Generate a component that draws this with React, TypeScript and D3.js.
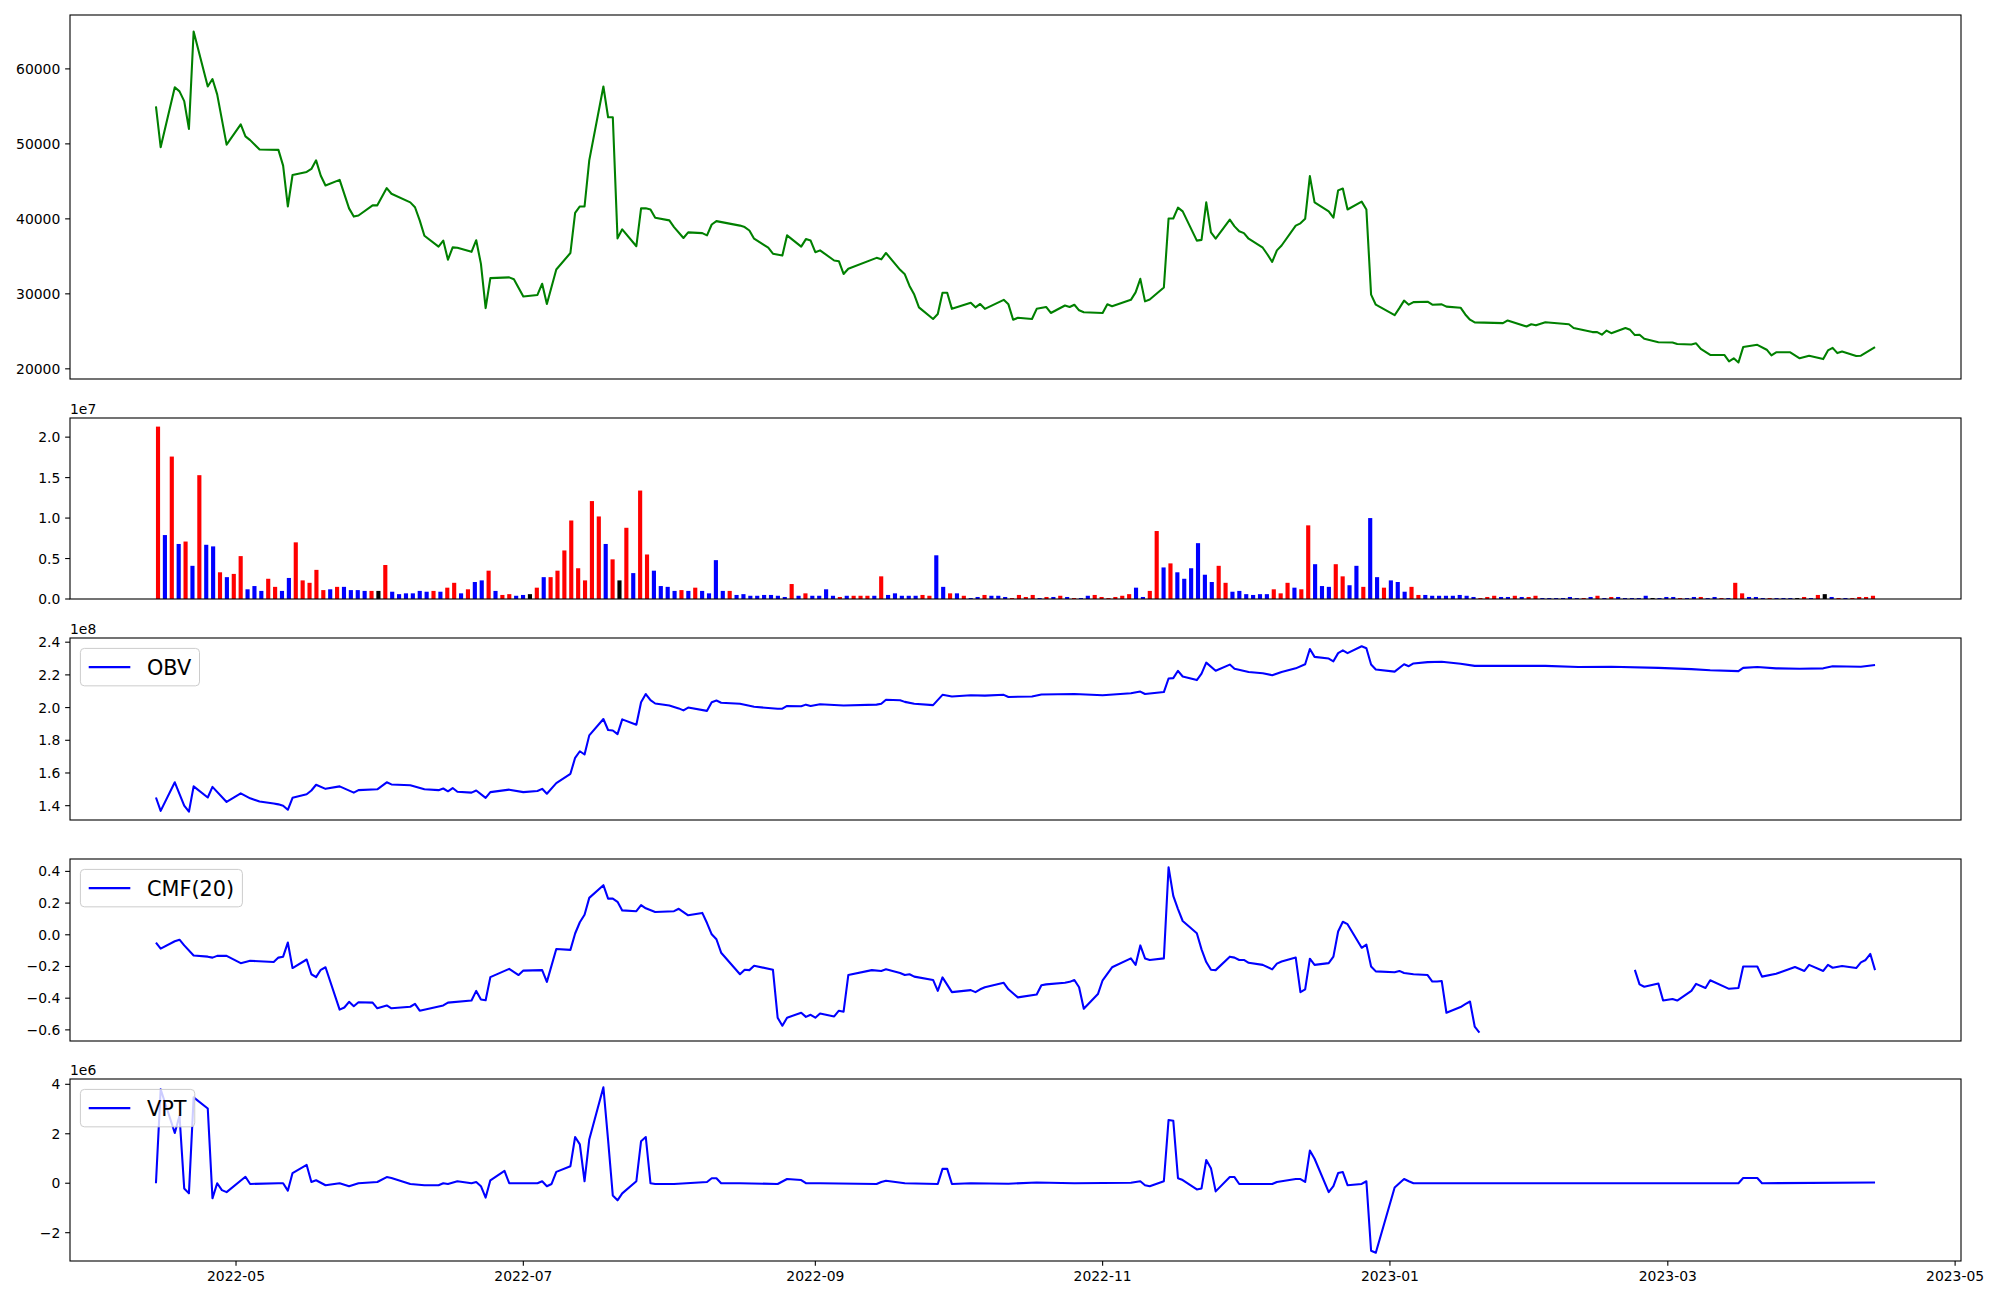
import React from "react";
import * as d3 from "d3";

// ---------------- data ----------------
const priceData: [string, number][] = [
["2022-04-14",55000],["2022-04-15",49550],["2022-04-18",57550],["2022-04-19",57000],["2022-04-20",55700],["2022-04-21",52000],["2022-04-22",64980],["2022-04-25",57650],["2022-04-26",58650],["2022-04-27",56600],["2022-04-29",49900],
["2022-05-02",52600],["2022-05-03",51000],["2022-05-04",50500],["2022-05-06",49250],["2022-05-10",49200],["2022-05-11",47100],["2022-05-12",41650],["2022-05-13",45850],["2022-05-16",46250],["2022-05-17",46650],["2022-05-18",47800],["2022-05-19",45750],["2022-05-20",44450],["2022-05-23",45200],["2022-05-25",41400],["2022-05-26",40300],["2022-05-27",40450],["2022-05-30",41800],["2022-05-31",41800],
["2022-06-02",44100],["2022-06-03",43350],["2022-06-07",42200],["2022-06-08",41550],["2022-06-09",39800],["2022-06-10",37750],["2022-06-13",36300],["2022-06-14",37100],["2022-06-15",34550],["2022-06-16",36200],["2022-06-17",36150],["2022-06-20",35600],["2022-06-21",37150],["2022-06-22",34000],["2022-06-23",28100],["2022-06-24",32100],["2022-06-28",32200],["2022-06-29",31950],
["2022-07-01",29650],["2022-07-04",29850],["2022-07-05",31350],["2022-07-06",28650],["2022-07-08",33250],["2022-07-11",35450],["2022-07-12",40800],["2022-07-13",41650],["2022-07-14",41650],["2022-07-15",47800],["2022-07-18",57650],["2022-07-19",53550],["2022-07-20",53550],["2022-07-21",37400],["2022-07-22",38600],["2022-07-25",36350],["2022-07-26",41400],["2022-07-27",41400],["2022-07-28",41250],["2022-07-29",40150],
["2022-08-01",39800],["2022-08-02",38900],["2022-08-04",37450],["2022-08-05",38200],["2022-08-08",38100],["2022-08-09",37800],["2022-08-10",39250],["2022-08-11",39700],["2022-08-16",39100],["2022-08-17",38900],["2022-08-18",38450],["2022-08-19",37350],["2022-08-22",36150],["2022-08-23",35350],["2022-08-25",35100],["2022-08-26",37800],["2022-08-29",36300],["2022-08-30",37300],["2022-08-31",37100],
["2022-09-01",35550],["2022-09-02",35800],["2022-09-05",34450],["2022-09-06",34350],["2022-09-07",32650],["2022-09-08",33350],["2022-09-14",34800],["2022-09-15",34600],["2022-09-16",35450],["2022-09-19",33200],["2022-09-20",32600],["2022-09-21",31050],["2022-09-22",29900],["2022-09-23",28200],["2022-09-26",26650],["2022-09-27",27300],["2022-09-28",30150],["2022-09-29",30150],["2022-09-30",28000],
["2022-10-04",28800],["2022-10-05",28200],["2022-10-06",28650],["2022-10-07",28000],["2022-10-11",29200],["2022-10-12",28600],["2022-10-13",26550],["2022-10-14",26800],["2022-10-17",26650],["2022-10-18",28000],["2022-10-20",28250],["2022-10-21",27450],["2022-10-24",28450],["2022-10-25",28250],["2022-10-26",28550],["2022-10-27",27800],["2022-10-28",27550],
["2022-11-01",27450],["2022-11-02",28600],["2022-11-03",28350],["2022-11-07",29200],["2022-11-08",30200],["2022-11-09",32000],["2022-11-10",29000],["2022-11-11",29250],["2022-11-14",30850],["2022-11-15",40050],["2022-11-16",40050],["2022-11-17",41500],["2022-11-18",41000],["2022-11-21",37100],["2022-11-22",37200],["2022-11-23",42200],["2022-11-24",38200],["2022-11-25",37350],["2022-11-28",39900],["2022-11-29",39000],["2022-11-30",38350],
["2022-12-01",38100],["2022-12-02",37350],["2022-12-05",36150],["2022-12-06",35250],["2022-12-07",34250],["2022-12-08",35800],["2022-12-09",36450],["2022-12-12",39100],["2022-12-13",39400],["2022-12-14",40000],["2022-12-15",45700],["2022-12-16",42200],["2022-12-19",41000],["2022-12-20",40150],["2022-12-21",43800],["2022-12-22",44050],["2022-12-23",41250],["2022-12-26",42300],["2022-12-27",41250],["2022-12-28",29900],["2022-12-29",28550],
["2023-01-02",27150],["2023-01-03",28100],["2023-01-04",29100],["2023-01-05",28550],["2023-01-06",28900],["2023-01-09",28950],["2023-01-10",28550],["2023-01-12",28600],["2023-01-13",28300],["2023-01-16",28150],["2023-01-17",27250],["2023-01-18",26550],["2023-01-19",26200],["2023-01-25",26100],["2023-01-26",26450],["2023-01-30",25650],["2023-01-31",25950],
["2023-02-01",25800],["2023-02-03",26200],["2023-02-08",25950],["2023-02-09",25450],["2023-02-13",24900],["2023-02-14",24900],["2023-02-15",24550],["2023-02-16",25100],["2023-02-17",24750],["2023-02-20",25450],["2023-02-21",25200],["2023-02-22",24500],["2023-02-23",24550],["2023-02-24",24000],["2023-02-27",23550],
["2023-03-02",23500],["2023-03-03",23300],["2023-03-06",23250],["2023-03-07",23400],["2023-03-08",22650],["2023-03-10",21850],["2023-03-13",21850],["2023-03-14",21000],["2023-03-15",21400],["2023-03-16",20850],["2023-03-17",22900],["2023-03-20",23200],["2023-03-22",22550],["2023-03-23",21800],["2023-03-24",22200],["2023-03-27",22200],["2023-03-29",21400],["2023-03-31",21750],
["2023-04-03",21300],["2023-04-04",22450],["2023-04-05",22800],["2023-04-06",22100],["2023-04-07",22300],["2023-04-10",21700],["2023-04-11",21750],["2023-04-14",22900],
];

// daily volume (millions), one per trading day, plotted by index
const volumeM: number[] = [
21.3,7.9,17.6,6.8,7.1,4.1,15.3,6.7,6.5,3.3,
2.7,3.1,5.3,1.2,1.6,1.0,2.5,1.5,1.0,2.6,
7.0,2.3,2.0,3.6,1.1,1.2,1.5,1.5,1.1,1.1,
1.0,1.0,1.0,4.2,0.9,0.6,0.7,0.7,1.0,0.9,
1.0,0.9,1.4,2.0,0.7,1.2,2.1,2.3,3.5,1.0,
0.5,0.6,0.4,0.5,0.6,1.4,2.7,2.7,3.5,6.0,
9.7,3.8,2.3,12.1,10.2,6.8,4.9,2.3,8.8,3.2,
13.4,5.5,3.5,1.6,1.5,1.0,1.1,1.0,1.4,1.0,
0.7,4.8,1.0,1.0,0.5,0.6,0.4,0.4,0.5,0.5,
0.4,0.25,1.85,0.4,0.7,0.4,0.4,1.2,0.4,0.25,
0.4,0.4,0.4,0.4,0.4,2.8,0.5,0.7,0.4,0.4,
0.4,0.5,0.4,5.4,1.5,0.7,0.7,0.4,0.12,0.25,
0.5,0.4,0.4,0.25,0.12,0.5,0.25,0.5,0.12,0.25,
0.25,0.4,0.25,0.12,0.12,0.4,0.5,0.25,0.12,0.25,
0.4,0.6,1.4,0.25,1.0,8.4,3.9,4.4,3.3,2.5,
3.8,6.9,3.0,2.1,4.1,2.0,0.9,1.0,0.6,0.5,
0.6,0.6,1.2,0.7,2.0,1.4,1.2,9.1,4.3,1.6,
1.5,4.3,2.8,1.7,4.1,1.5,10.0,2.7,1.4,2.3,
2.1,0.9,1.5,0.5,0.5,0.4,0.4,0.4,0.4,0.5,
0.4,0.25,0.12,0.25,0.4,0.25,0.25,0.4,0.25,0.25,
0.4,0.12,0.12,0.12,0.12,0.25,0.12,0.12,0.25,0.4,
0.12,0.25,0.25,0.12,0.12,0.12,0.4,0.12,0.12,0.25,
0.25,0.12,0.12,0.25,0.25,0.12,0.25,0.12,0.12,2.0,
0.7,0.25,0.25,0.12,0.12,0.12,0.12,0.12,0.12,0.25,
0.12,0.5,0.6,0.25,0.12,0.12,0.12,0.25,0.25,0.4,
];
// r = up day, b = down day, k = unchanged
const volumeColors =
"rbrbrbrbbr" + "brrbbbrrbb" + "rrrrrbrbbb" + "brkrbbbbbb" + "rbrrbrbbrb" +
"rrbbkrbrrr" + "rrrrrbrkrb" + "rrbbbbrbrb" + "bbbrbbbbbb" + "bbrbrbbbbr" +
"brrrbrbbbb" + "brrbbrbrbb" + "rbbbrrrrbr" + "brbrbbrrrr" + "rrbbrrbrbb" +
"bbbbrrbbbb" + "bbrrrbrrbb" + "brrbbrbbrb" + "bbrrbbbbbb" + "bbrrrbbrbr" +
"rbbbbbbrbr" + "brbbbbbkbb" + "brbbrbbrbr" + "rbbbrbbbkr" + "brkbrbrrrr";

// OBV (x 1e8)
const obvData: [string, number][] = [
["2022-04-14",1.450],["2022-04-15",1.368],["2022-04-18",1.543],["2022-04-20",1.400],["2022-04-21",1.363],["2022-04-22",1.518],["2022-04-25",1.450],["2022-04-26",1.515],["2022-04-29",1.423],
["2022-05-02",1.475],["2022-05-04",1.445],["2022-05-06",1.425],["2022-05-09",1.413],["2022-05-10",1.408],["2022-05-11",1.400],["2022-05-12",1.375],["2022-05-13",1.448],["2022-05-16",1.470],["2022-05-17",1.493],["2022-05-18",1.528],["2022-05-20",1.503],["2022-05-23",1.518],["2022-05-26",1.480],["2022-05-27",1.495],["2022-05-31",1.500],
["2022-06-02",1.543],["2022-06-03",1.530],["2022-06-07",1.525],["2022-06-10",1.500],["2022-06-13",1.495],["2022-06-14",1.505],["2022-06-15",1.488],["2022-06-16",1.508],["2022-06-17",1.485],["2022-06-20",1.480],["2022-06-21",1.493],["2022-06-23",1.448],["2022-06-24",1.483],["2022-06-28",1.498],
["2022-07-01",1.483],["2022-07-04",1.490],["2022-07-05",1.503],["2022-07-06",1.473],["2022-07-08",1.538],["2022-07-11",1.595],["2022-07-12",1.693],["2022-07-13",1.733],["2022-07-14",1.713],["2022-07-15",1.830],["2022-07-18",1.930],["2022-07-19",1.863],["2022-07-20",1.860],["2022-07-21",1.838],["2022-07-22",1.928],["2022-07-25",1.895],["2022-07-26",2.033],["2022-07-27",2.083],["2022-07-28",2.045],["2022-07-29",2.025],
["2022-08-01",2.013],["2022-08-03",1.995],["2022-08-04",1.983],["2022-08-05",2.000],["2022-08-09",1.980],["2022-08-10",2.033],["2022-08-11",2.043],["2022-08-12",2.030],["2022-08-16",2.023],["2022-08-19",2.005],["2022-08-24",1.993],["2022-08-25",1.993],["2022-08-26",2.010],["2022-08-29",2.008],["2022-08-30",2.018],["2022-08-31",2.010],
["2022-09-02",2.020],["2022-09-07",2.013],["2022-09-14",2.018],["2022-09-15",2.023],["2022-09-16",2.048],["2022-09-19",2.045],["2022-09-20",2.035],["2022-09-22",2.023],["2022-09-26",2.015],["2022-09-28",2.078],["2022-09-30",2.068],
["2022-10-04",2.075],["2022-10-07",2.073],["2022-10-11",2.078],["2022-10-12",2.065],["2022-10-17",2.068],["2022-10-19",2.080],["2022-10-26",2.083],
["2022-11-01",2.075],["2022-11-07",2.088],["2022-11-09",2.098],["2022-11-10",2.083],["2022-11-14",2.095],["2022-11-15",2.178],["2022-11-16",2.180],["2022-11-17",2.225],["2022-11-18",2.190],["2022-11-21",2.168],["2022-11-22",2.208],["2022-11-23",2.275],["2022-11-25",2.225],["2022-11-28",2.263],["2022-11-29",2.238],
["2022-12-02",2.218],["2022-12-05",2.210],["2022-12-07",2.198],["2022-12-09",2.218],["2022-12-12",2.240],["2022-12-14",2.265],["2022-12-15",2.358],["2022-12-16",2.310],["2022-12-19",2.300],["2022-12-20",2.283],["2022-12-21",2.333],["2022-12-22",2.350],["2022-12-23",2.333],["2022-12-26",2.375],["2022-12-27",2.363],["2022-12-28",2.263],["2022-12-29",2.233],
["2023-01-02",2.220],["2023-01-04",2.265],["2023-01-05",2.253],["2023-01-06",2.270],["2023-01-09",2.278],["2023-01-12",2.280],["2023-01-16",2.268],["2023-01-19",2.255],["2023-01-26",2.255],
["2023-02-03",2.255],["2023-02-10",2.248],["2023-02-17",2.250],["2023-02-27",2.243],
["2023-03-06",2.235],["2023-03-10",2.228],["2023-03-16",2.223],["2023-03-17",2.243],["2023-03-20",2.248],["2023-03-24",2.240],["2023-03-29",2.238],
["2023-04-03",2.240],["2023-04-05",2.253],["2023-04-11",2.250],["2023-04-14",2.260],
];

// CMF(20); null = no value
const cmfData: [string, number | null][] = [
["2022-04-14",-0.049],["2022-04-15",-0.087],["2022-04-18",-0.041],["2022-04-19",-0.031],["2022-04-20",-0.067],["2022-04-22",-0.131],["2022-04-25",-0.138],["2022-04-26",-0.144],["2022-04-27",-0.133],["2022-04-29",-0.133],
["2022-05-02",-0.179],["2022-05-04",-0.164],["2022-05-09",-0.172],["2022-05-10",-0.144],["2022-05-11",-0.138],["2022-05-12",-0.049],["2022-05-13",-0.210],["2022-05-16",-0.156],["2022-05-17",-0.249],["2022-05-18",-0.267],["2022-05-19",-0.221],["2022-05-20",-0.205],["2022-05-23",-0.472],["2022-05-24",-0.459],["2022-05-25",-0.423],["2022-05-26",-0.451],["2022-05-27",-0.426],["2022-05-30",-0.428],["2022-05-31",-0.464],
["2022-06-02",-0.446],["2022-06-03",-0.464],["2022-06-07",-0.454],["2022-06-08",-0.436],["2022-06-09",-0.479],["2022-06-14",-0.446],["2022-06-15",-0.428],["2022-06-20",-0.415],["2022-06-21",-0.354],["2022-06-22",-0.408],["2022-06-23",-0.413],["2022-06-24",-0.267],["2022-06-28",-0.215],["2022-06-30",-0.254],
["2022-07-01",-0.226],["2022-07-05",-0.223],["2022-07-06",-0.297],["2022-07-08",-0.090],["2022-07-11",-0.095],["2022-07-12",0.008],["2022-07-13",0.079],["2022-07-14",0.126],["2022-07-15",0.233],["2022-07-18",0.313],["2022-07-19",0.228],["2022-07-20",0.228],["2022-07-21",0.208],["2022-07-22",0.154],["2022-07-25",0.149],["2022-07-26",0.187],["2022-07-27",0.167],["2022-07-29",0.144],
["2022-08-02",0.149],["2022-08-03",0.164],["2022-08-05",0.123],["2022-08-08",0.138],["2022-08-09",0.074],["2022-08-10",0.003],["2022-08-11",-0.028],["2022-08-12",-0.113],["2022-08-16",-0.249],["2022-08-17",-0.221],["2022-08-18",-0.223],["2022-08-19",-0.195],["2022-08-23",-0.221],["2022-08-24",-0.523],["2022-08-25",-0.574],["2022-08-26",-0.523],["2022-08-29",-0.492],["2022-08-30",-0.518],["2022-08-31",-0.505],
["2022-09-01",-0.523],["2022-09-02",-0.497],["2022-09-05",-0.515],["2022-09-06",-0.479],["2022-09-07",-0.485],["2022-09-08",-0.254],["2022-09-13",-0.223],["2022-09-15",-0.228],["2022-09-16",-0.218],["2022-09-19",-0.241],["2022-09-20",-0.254],["2022-09-21",-0.249],["2022-09-22",-0.264],["2022-09-26",-0.285],["2022-09-27",-0.354],["2022-09-28",-0.269],["2022-09-30",-0.362],
["2022-10-04",-0.349],["2022-10-05",-0.362],["2022-10-06",-0.344],["2022-10-07",-0.331],["2022-10-11",-0.303],["2022-10-12",-0.344],["2022-10-14",-0.395],["2022-10-18",-0.377],["2022-10-19",-0.318],["2022-10-20",-0.313],["2022-10-24",-0.303],["2022-10-25",-0.297],["2022-10-26",-0.285],["2022-10-27",-0.331],["2022-10-28",-0.467],["2022-10-31",-0.374],
["2022-11-01",-0.287],["2022-11-03",-0.205],["2022-11-07",-0.149],["2022-11-08",-0.190],["2022-11-09",-0.067],["2022-11-10",-0.149],["2022-11-11",-0.159],["2022-11-14",-0.149],["2022-11-15",0.426],["2022-11-16",0.246],["2022-11-17",0.162],["2022-11-18",0.087],["2022-11-21",0.010],["2022-11-22",-0.092],["2022-11-23",-0.172],["2022-11-24",-0.221],["2022-11-25",-0.223],["2022-11-28",-0.138],["2022-11-29",-0.144],["2022-11-30",-0.159],
["2022-12-01",-0.159],["2022-12-02",-0.177],["2022-12-05",-0.190],["2022-12-07",-0.218],["2022-12-08",-0.182],["2022-12-09",-0.169],["2022-12-12",-0.144],["2022-12-13",-0.362],["2022-12-14",-0.344],["2022-12-15",-0.151],["2022-12-16",-0.190],["2022-12-19",-0.179],["2022-12-20",-0.138],["2022-12-21",0.021],["2022-12-22",0.082],["2022-12-23",0.067],["2022-12-26",-0.082],["2022-12-27",-0.062],["2022-12-28",-0.200],["2022-12-29",-0.231],
["2023-01-02",-0.236],["2023-01-03",-0.228],["2023-01-04",-0.241],["2023-01-06",-0.249],["2023-01-09",-0.254],["2023-01-10",-0.295],["2023-01-11",-0.295],["2023-01-12",-0.292],["2023-01-13",-0.492],["2023-01-16",-0.456],["2023-01-17",-0.438],["2023-01-18",-0.421],["2023-01-19",-0.579],["2023-01-20",-0.618],["2023-01-25",null],
["2023-02-22",-0.221],["2023-02-23",-0.313],["2023-02-24",-0.328],["2023-02-27",-0.308],["2023-02-28",-0.415],
["2023-03-02",-0.405],["2023-03-03",-0.415],["2023-03-06",-0.354],["2023-03-07",-0.310],["2023-03-09",-0.336],["2023-03-10",-0.287],["2023-03-14",-0.341],["2023-03-16",-0.336],["2023-03-17",-0.200],["2023-03-20",-0.200],["2023-03-21",-0.264],["2023-03-24",-0.246],["2023-03-28",-0.203],["2023-03-30",-0.228],["2023-03-31",-0.190],
["2023-04-03",-0.228],["2023-04-04",-0.190],["2023-04-05",-0.208],["2023-04-07",-0.197],["2023-04-10",-0.210],["2023-04-11",-0.174],["2023-04-12",-0.159],["2023-04-13",-0.121],["2023-04-14",-0.223],
];

// VPT (x 1e6)
const vptData: [string, number][] = [
["2022-04-14",0],["2022-04-15",3.80],["2022-04-18",2.03],["2022-04-19",2.73],["2022-04-20",-0.21],["2022-04-21",-0.41],["2022-04-22",3.47],["2022-04-25",3.02],["2022-04-26",-0.61],["2022-04-27",0.0],["2022-04-28",-0.28],["2022-04-29",-0.36],
["2022-05-03",0.26],["2022-05-04",-0.03],["2022-05-10",0.0],["2022-05-11",0.0],["2022-05-12",-0.30],["2022-05-13",0.41],["2022-05-16",0.74],["2022-05-17",0.05],["2022-05-18",0.12],["2022-05-20",-0.08],["2022-05-23",0.0],["2022-05-25",-0.12],["2022-05-27",0.0],["2022-05-31",0.05],
["2022-06-02",0.25],["2022-06-03",0.21],["2022-06-07",-0.03],["2022-06-10",-0.08],["2022-06-13",-0.08],["2022-06-14",0.0],["2022-06-15",-0.03],["2022-06-17",0.08],["2022-06-20",0.0],["2022-06-21",0.05],["2022-06-22",-0.12],["2022-06-23",-0.58],["2022-06-24",0.12],["2022-06-27",0.50],["2022-06-28",0.0],
["2022-07-04",0.0],["2022-07-05",0.08],["2022-07-06",-0.12],["2022-07-07",-0.03],["2022-07-08",0.46],["2022-07-11",0.69],["2022-07-12",1.87],["2022-07-13",1.57],["2022-07-14",0.08],["2022-07-15",1.77],["2022-07-18",3.88],["2022-07-19",1.74],["2022-07-20",-0.50],["2022-07-21",-0.69],["2022-07-22",-0.41],["2022-07-25",0.08],["2022-07-26",1.70],["2022-07-27",1.87],["2022-07-28",0.0],["2022-07-29",-0.03],
["2022-08-02",-0.03],["2022-08-09",0.05],["2022-08-10",0.20],["2022-08-11",0.20],["2022-08-12",0.0],["2022-08-16",0.0],["2022-08-24",-0.03],["2022-08-26",0.17],["2022-08-29",0.13],["2022-08-30",0.0],
["2022-09-02",0.0],["2022-09-14",-0.03],["2022-09-15",0.05],["2022-09-16",0.10],["2022-09-20",0.0],["2022-09-27",-0.03],["2022-09-28",0.58],["2022-09-29",0.58],["2022-09-30",-0.03],
["2022-10-04",0.0],["2022-10-12",-0.02],["2022-10-18",0.03],["2022-10-26",0.0],
["2022-11-07",0.02],["2022-11-09",0.08],["2022-11-10",-0.08],["2022-11-11",-0.12],["2022-11-14",0.08],["2022-11-15",2.56],["2022-11-16",2.53],["2022-11-17",0.20],["2022-11-18",0.13],["2022-11-21",-0.25],["2022-11-22",-0.21],["2022-11-23",0.94],["2022-11-24",0.61],["2022-11-25",-0.33],["2022-11-28",0.25],["2022-11-29",0.25],["2022-11-30",-0.03],
["2022-12-07",-0.03],["2022-12-08",0.05],["2022-12-12",0.17],["2022-12-13",0.17],["2022-12-14",0.05],["2022-12-15",1.32],["2022-12-16",0.99],["2022-12-19",-0.36],["2022-12-20",-0.12],["2022-12-21",0.41],["2022-12-22",0.45],["2022-12-23",-0.08],["2022-12-26",-0.03],["2022-12-27",0.08],["2022-12-28",-2.73],["2022-12-29",-2.81],
["2023-01-02",-0.17],["2023-01-04",0.17],["2023-01-05",0.08],["2023-01-06",0.0],["2023-02-01",0.0],["2023-03-16",0.0],["2023-03-17",0.21],["2023-03-20",0.21],["2023-03-21",0.0],["2023-04-14",0.03],
];

const priceTicks = [20000, 30000, 40000, 50000, 60000];
const volumeTicks = [0, 0.5, 1.0, 1.5, 2.0];
const obvTicks = [1.4, 1.6, 1.8, 2.0, 2.2, 2.4];
const cmfTicks = [-0.6, -0.4, -0.2, 0.0, 0.2, 0.4];
const vptTicks = [-2, 0, 2, 4];
const dateTicks = ["2022-05-01", "2022-07-01", "2022-09-01", "2022-11-01", "2023-01-01", "2023-03-01", "2023-05-01"];
const firstDate = "2022-04-14";
const lastDate = "2023-04-14";

// ---------------- layout ----------------
const W = 2000, H = 1300;
const LEFT = 70, RIGHT = 1961;
const PANELS = [
  { top: 15, bottom: 379 },
  { top: 418, bottom: 599 },
  { top: 638, bottom: 820 },
  { top: 859, bottom: 1041 },
  { top: 1079, bottom: 1261 },
];
const FONT = "DejaVu Sans";
const TICK_FS = 13.9;
const LEG_FS = 20.8;
const TICK_LEN = 4.86;
const LW = 2.08;

const parse = d3.utcParse("%Y-%m-%d");
const t0 = parse(firstDate)!.getTime();
const t1 = parse(lastDate)!.getTime();
const tspan = t1 - t0;
const xTime = d3.scaleUtc()
  .domain([new Date(t0 - 0.05 * tspan), new Date(t1 + 0.05 * tspan)])
  .range([LEFT, RIGHT]);

function autoY(vals: number[], p: { top: number; bottom: number }) {
  const [mn, mx] = d3.extent(vals) as [number, number];
  const pad = (mx - mn) * 0.05;
  return d3.scaleLinear().domain([mn - pad, mx + pad]).range([p.bottom, p.top]);
}

function measure(text: string, size: number) {
  if (typeof document === "undefined") return text.length * size * 0.6;
  const c = document.createElement("canvas").getContext("2d");
  if (!c) return text.length * size * 0.6;
  c.font = `${size}px "${FONT}"`;
  return c.measureText(text).width;
}

function YAxis({ y, ticks, fmt }: { y: d3.ScaleLinear<number, number>; ticks: number[]; fmt: (v: number) => string }) {
  return (
    <g>
      {ticks.map((t) => (
        <g key={t}>
          <line x1={LEFT - TICK_LEN} x2={LEFT} y1={y(t)} y2={y(t)} stroke="#000" strokeWidth={1.1} />
          <text x={LEFT - TICK_LEN - 4.86} y={y(t)} dy="0.36em" textAnchor="end" fontFamily={FONT} fontSize={TICK_FS} fill="#000">
            {fmt(t)}
          </text>
        </g>
      ))}
    </g>
  );
}

function Frame({ p }: { p: { top: number; bottom: number } }) {
  return <rect x={LEFT} y={p.top} width={RIGHT - LEFT} height={p.bottom - p.top} fill="none" stroke="#000" strokeWidth={1.1} />;
}

function OffsetText({ p, text }: { p: { top: number; bottom: number }; text: string }) {
  return (
    <text x={LEFT} y={p.top - 4.5} fontFamily={FONT} fontSize={TICK_FS} fill="#000">{text}</text>
  );
}

function Legend({ p, label }: { p: { top: number; bottom: number }; label: string }) {
  const pad = 0.4 * LEG_FS;
  const handle = 2.0 * LEG_FS;
  const gap = 0.8 * LEG_FS;
  const tw = measure(label, LEG_FS);
  const x = LEFT + 0.5 * LEG_FS;
  const y = p.top + 0.5 * LEG_FS;
  const w = pad + handle + gap + tw + pad;
  const h = 2 * pad + LEG_FS;
  const cy = y + h / 2;
  return (
    <g>
      <rect x={x} y={y} width={w} height={h} rx={4} ry={4} fill="#fff" fillOpacity={0.8} stroke="#cccccc" strokeWidth={1} />
      <line x1={x + pad} x2={x + pad + handle} y1={cy} y2={cy} stroke="#0000ff" strokeWidth={LW} />
      <text x={x + pad + handle + gap} y={cy} dy="0.36em" fontFamily={FONT} fontSize={LEG_FS} fill="#000">{label}</text>
    </g>
  );
}

export default function App() {
  const lineGen = (y: d3.ScaleLinear<number, number>) =>
    d3.line<[string, number | null]>()
      .defined((d) => d[1] !== null)
      .x((d) => xTime(parse(d[0])!))
      .y((d) => y(d[1] as number));

  // price
  const yPrice = autoY(priceData.map((d) => d[1]), PANELS[0]);
  // volume (in 1e7)
  const vol7 = volumeM.map((v) => v / 10);
  const yVol = d3.scaleLinear().domain([0, (d3.max(vol7) as number) * 1.05]).range([PANELS[1].bottom, PANELS[1].top]);
  const n = vol7.length;
  const bw = 0.6;
  const xm = 0.05 * (n - 1 + bw);
  const xIdx = d3.scaleLinear().domain([-bw / 2 - xm, n - 1 + bw / 2 + xm]).range([LEFT, RIGHT]);
  const colorOf: Record<string, string> = { r: "#ff0000", b: "#0000ff", k: "#000000" };
  // obv, cmf, vpt
  const yObv = autoY(obvData.map((d) => d[1]), PANELS[2]);
  const yCmf = autoY(cmfData.filter((d) => d[1] !== null).map((d) => d[1] as number), PANELS[3]);
  const yVpt = autoY(vptData.map((d) => d[1]), PANELS[4]);

  const f1 = d3.format(".1f");
  const fd = d3.format("d");
  const fmtDate = d3.utcFormat("%Y-%m");
  const pb = PANELS[4];

  return (
    <svg width={W} height={H} viewBox={`0 0 ${W} ${H}`} style={{ position: "absolute", left: 0, top: 0, background: "#fff" }}>
      <rect x={0} y={0} width={W} height={H} fill="#fff" />

      {/* Price */}
      <path d={lineGen(yPrice)(priceData as [string, number | null][]) || ""} fill="none" stroke="#008000" strokeWidth={LW} strokeLinejoin="round" />
      <YAxis y={yPrice} ticks={priceTicks} fmt={fd} />
      <Frame p={PANELS[0]} />

      {/* Volume */}
      {vol7.map((v, i) => (
        <rect key={i} x={xIdx(i - bw / 2)} width={xIdx(i + bw / 2) - xIdx(i - bw / 2)} y={yVol(v)} height={yVol(0) - yVol(v)} fill={colorOf[volumeColors[i]] || "#0000ff"} />
      ))}
      <YAxis y={yVol} ticks={volumeTicks} fmt={f1} />
      <OffsetText p={PANELS[1]} text="1e7" />
      <Frame p={PANELS[1]} />

      {/* OBV */}
      <path d={lineGen(yObv)(obvData as [string, number | null][]) || ""} fill="none" stroke="#0000ff" strokeWidth={LW} strokeLinejoin="round" />
      <YAxis y={yObv} ticks={obvTicks} fmt={f1} />
      <OffsetText p={PANELS[2]} text="1e8" />
      <Legend p={PANELS[2]} label="OBV" />
      <Frame p={PANELS[2]} />

      {/* CMF */}
      <path d={lineGen(yCmf)(cmfData) || ""} fill="none" stroke="#0000ff" strokeWidth={LW} strokeLinejoin="round" />
      <YAxis y={yCmf} ticks={cmfTicks} fmt={f1} />
      <Legend p={PANELS[3]} label="CMF(20)" />
      <Frame p={PANELS[3]} />

      {/* VPT */}
      <path d={lineGen(yVpt)(vptData as [string, number | null][]) || ""} fill="none" stroke="#0000ff" strokeWidth={LW} strokeLinejoin="round" />
      <YAxis y={yVpt} ticks={vptTicks} fmt={fd} />
      <OffsetText p={PANELS[4]} text="1e6" />
      <Legend p={PANELS[4]} label="VPT" />
      <Frame p={PANELS[4]} />

      {/* X axis (bottom only) */}
      {dateTicks.map((ds) => {
        const x = xTime(parse(ds)!);
        return (
          <g key={ds}>
            <line x1={x} x2={x} y1={pb.bottom} y2={pb.bottom + TICK_LEN} stroke="#000" strokeWidth={1.1} />
            <text x={x} y={pb.bottom + TICK_LEN + 4.86} dy="0.76em" textAnchor="middle" fontFamily={FONT} fontSize={TICK_FS} fill="#000">
              {fmtDate(parse(ds)!)}
            </text>
          </g>
        );
      })}
    </svg>
  );
}
